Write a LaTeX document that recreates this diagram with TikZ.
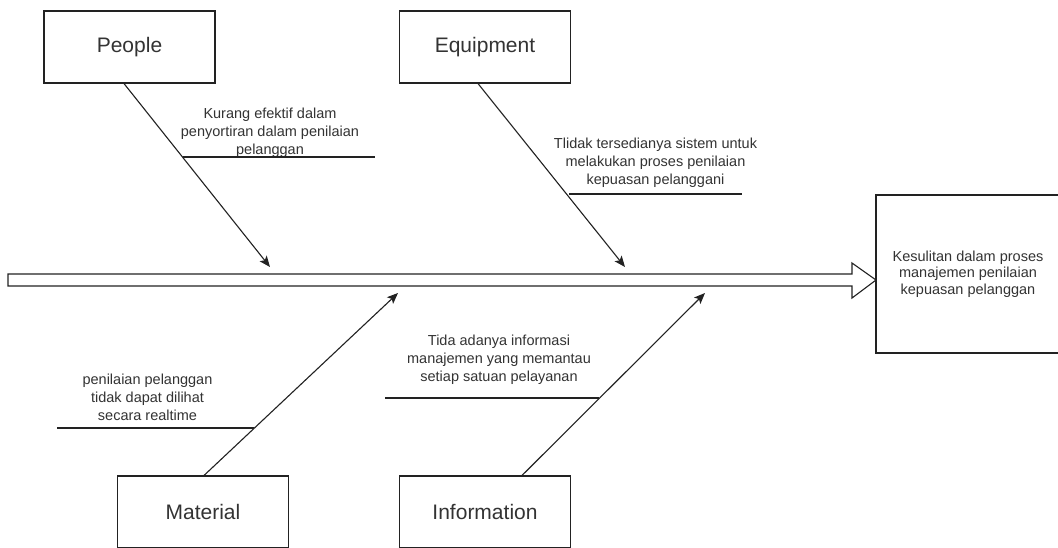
\documentclass[tikz,border=0pt]{standalone}
\usepackage{fontspec}
\setmainfont{Liberation Sans}
\usetikzlibrary{arrows.meta}
\definecolor{ink}{HTML}{222222}
\definecolor{txt}{HTML}{333333}
\tikzset{
  catbox/.style={draw=ink, line width=1.1pt, fill=white, minimum width=171pt, minimum height=72pt, inner sep=0pt, font=\fontsize{21}{25}\selectfont, text=txt},
  headbox/.style={draw=ink, line width=1.1pt, fill=white, minimum width=184pt, minimum height=158pt, inner sep=0pt, align=center, font=\fontsize{14.5}{16.5}\selectfont, text=txt},
  cause/.style={align=center, inner sep=0pt, font=\fontsize{14.5}{18}\selectfont, text=txt},
  bone/.style={draw=ink, line width=1.1pt, -{Stealth[length=11pt,width=9pt,inset=2.5pt]}},
  uline/.style={draw=ink, line width=1.1pt},
  spine/.style={draw=ink, line width=1.1pt, fill=white, line join=miter}
}
\begin{document}
\begin{tikzpicture}[x=1pt,y=-1pt]
\useasboundingbox (0,0) rectangle (1058,547);
\clip (0,0) rectangle (1058,547);
\fill[white] (0,0) rectangle (1058,547);

% boxes
\node[catbox] (people) at (129.5,47) {People};
\node[catbox] (equip) at (485,47) {Equipment};
\node[catbox] (material) at (203,512) {Material};
\node[catbox] (info) at (485,512) {Information};
\node[headbox] (effect) at (968,274) {Kesulitan dalam proses\\manajemen penilaian\\kepuasan pelanggan};

% spine arrow
\draw[spine] (8,274) -- (852,274) -- (852,263) -- (876,280) -- (852,298) -- (852,286) -- (8,286) -- cycle;

% arrow tips on the spine
\coordinate (tP) at (270,267);
\coordinate (tE) at (625,267);
\coordinate (tM) at (398,293);
\coordinate (tI) at (705,293);

% bones
\draw[bone] ([xshift=-5.5pt]people.south) -- (tP);
\draw[bone] ([xshift=-7pt]equip.south) -- (tE);
\draw[bone] ([xshift=1pt]material.north) -- (tM);
\draw[bone] ([xshift=37pt]info.north) -- (tI);

% cause labels
\node[cause] (lP) at (270,133) {Kurang efektif dalam\\penyortiran dalam penilaian\\pelanggan};
\node[cause] (lE) at (655.5,163) {Tlidak tersedianya sistem untuk\\melakukan proses penilaian\\kepuasan pelanggani};
\node[cause] (lM) at (147.5,397) {penilaian pelanggan\\tidak dapat dilihat\\secara realtime};
\node[cause] (lI) at (499,360) {Tida adanya informasi\\manajemen yang memantau\\setiap satuan pelayanan};

% underlines
\coordinate (uP1) at (183,157); \coordinate (uP2) at (375,157);
\coordinate (uE1) at (569,194); \coordinate (uE2) at (742,194);
\coordinate (uM1) at (57,428);  \coordinate (uM2) at (254,428);
\coordinate (uI1) at (385,398); \coordinate (uI2) at (599,398);
\draw[uline] (uP1) -- (uP2);
\draw[uline] (uE1) -- (uE2);
\draw[uline] (uM1) -- (uM2);
\draw[uline] (uI1) -- (uI2);
\end{tikzpicture}
\end{document}
